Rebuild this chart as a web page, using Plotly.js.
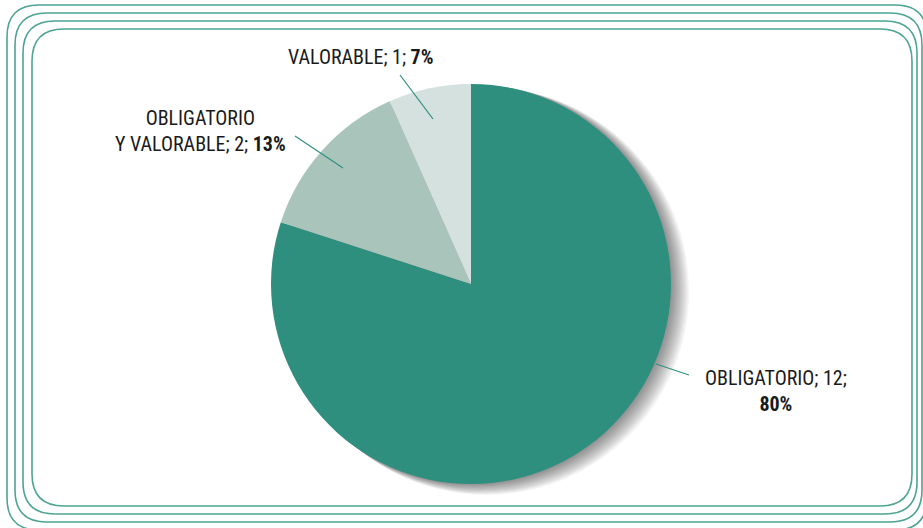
<!DOCTYPE html>
<html>
<head>
<meta charset="utf-8">
<script src="https://cdn.plot.ly/plotly-3.0.1.min.js"></script>
<style>html,body{margin:0;padding:0;background:#fff;}#chart{width:923px;height:528px;}</style>
</head>
<body>
<div id="chart"></div>
<script>
const categories = ["OBLIGATORIO", "OBLIGATORIO Y VALORABLE", "VALORABLE"];
const counts = [12, 2, 1];
const percentLabels = ["80%", "13%", "7%"];
const sliceColors = ["#2F8F7F", "#A9C4BA", "#D5E1DF"];

const W = 923, H = 528;
const px = x => x / W;
const py = y => 1 - y / H;

function roundRect(l, t, r, b, rad) {
  const P = (x, y) => px(x) + "," + py(y);
  return "M" + P(l + rad, t) + " L" + P(r - rad, t) + " Q" + P(r, t) + " " + P(r, t + rad) +
    " L" + P(r, b - rad) + " Q" + P(r, b) + " " + P(r - rad, b) +
    " L" + P(l + rad, b) + " Q" + P(l, b) + " " + P(l, b - rad) +
    " L" + P(l, t + rad) + " Q" + P(l, t) + " " + P(l + rad, t) + " Z";
}

const cx = 471, cy = 284, R = 200;
const shapes = [];
const frames = [[7, 5, 927, 530], [15, 13, 922, 522], [23, 21, 917, 514], [32, 29, 912, 506]];
frames.forEach(f => shapes.push({type: "path", xref: "paper", yref: "paper", path: roundRect(f[0], f[1], f[2], f[3], 32),
  line: {color: "#4FA493", width: 1.6}, layer: "below"}));

// soft shadow
for (let i = 14; i >= 1; i--) {
  const off = i * 1.3;
  shapes.push({type: "circle", xref: "paper", yref: "paper",
    x0: px(cx - R + off * 0.7), x1: px(cx + R + off), y0: py(cy + R + off * 0.6), y1: py(cy - R + off * 0.2),
    fillcolor: "rgba(0,0,0,0.035)", line: {width: 0}, layer: "below"});
}

const leaders = [[656, 364, 689, 375], [343, 168, 295, 136], [433, 119, 400, 75]];
leaders.forEach(l => shapes.push({type: "line", xref: "paper", yref: "paper",
  x0: px(l[0]), y0: py(l[1]), x1: px(l[2]), y1: py(l[3]), line: {color: "#2F8F7F", width: 1.2}}));

const font = {family: "'Liberation Sans Narrow', 'Roboto Condensed', 'DejaVu Sans Condensed', sans-serif", size: 20, color: "#1a1a1a"};
const labelText = [
  categories[0] + "; " + counts[0] + ";<br><b>" + percentLabels[0] + "</b>",
  "OBLIGATORIO<br>Y VALORABLE; " + counts[1] + "; <b>" + percentLabels[1] + "</b>",
  categories[2] + "; " + counts[2] + "; <b>" + percentLabels[2] + "</b>"
];
const labelPos = [[776, 391], [200, 131], [360, 57]];
const annotations = labelText.map((t, i) => ({xref: "paper", yref: "paper", x: px(labelPos[i][0]), y: py(labelPos[i][1]),
  xanchor: "center", yanchor: "middle", text: t, showarrow: false, font: font, align: "center"}));

const trace = {
  type: "pie", labels: categories, values: counts, sort: false, direction: "clockwise", rotation: 0,
  marker: {colors: sliceColors, line: {width: 0}}, textinfo: "none", hoverinfo: "label+value+percent",
  domain: {x: [px(cx - R), px(cx + R)], y: [py(cy + R), py(cy - R)]}, showlegend: false
};

Plotly.newPlot("chart", [trace], {
  width: W, height: H, margin: {l: 0, r: 0, t: 0, b: 0},
  paper_bgcolor: "#fff", plot_bgcolor: "#fff", showlegend: false,
  shapes: shapes, annotations: annotations
}, {displayModeBar: false, staticPlot: true});
</script>
</body>
</html>
